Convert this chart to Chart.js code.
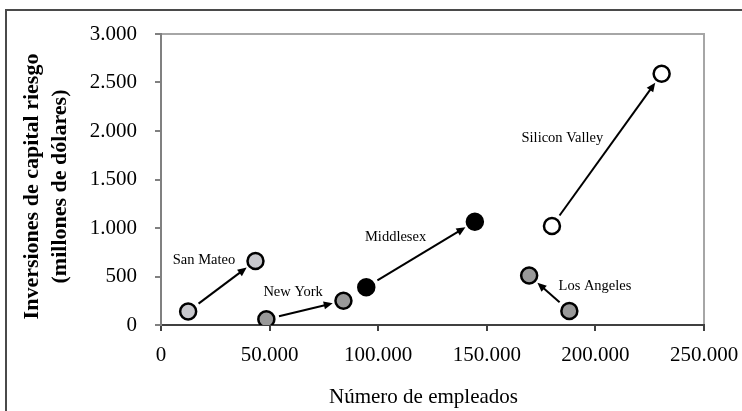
<!DOCTYPE html>
<html>
<head>
<meta charset="utf-8">
<script src="https://cdn.jsdelivr.net/npm/chart.js@4"></script>
<style>
html,body{margin:0;padding:0;background:#fff;overflow:hidden}
#frame{position:absolute;left:5px;top:9px;width:800px;height:500px;border:2px solid #4a4a4a}
#c{position:absolute;left:0;top:0}
</style>
</head>
<body>
<div id="frame"></div>
<canvas id="c" width="742" height="411"></canvas>
<script>
// regions: employees / VC investment (millions), start -> end of arrow
const regions=['San Mateo','New York','Middlesex','Silicon Valley','Los Angeles'];
const empStart=[12500,48500,94500,180000,188000];
const empEnd=[43500,84000,144500,230500,169500];
const vcStart=[140,60,390,1020,145];
const vcEnd=[660,250,1065,2590,510];
// where each region's name sits (data units)
const labelEmp=[19800,60800,108000,184800,199800];
const labelVc=[665,335,910,1930,395];
const fills=['#c8c8cd','#999999','#000000','#ffffff','#999999'];
const xTitle='Número de empleados';
const yTitle=['Inversiones de capital riesgo','(millones de dólares)'];

const fmt=v=>String(v).replace(/\B(?=(\d{3})+(?!\d))/g,'.');
const serif="'Liberation Serif','Times New Roman',serif";

const datasets=regions.map((r,i)=>({
  label:r,
  data:[{x:empStart[i],y:vcStart[i]},{x:empEnd[i],y:vcEnd[i]}],
  backgroundColor:fills[i],borderColor:'#000',borderWidth:2.5,pointRadius:8,pointHoverRadius:8
}));

/* plot frame (top + right) */
const frame={id:'frame',beforeDraw(ch){
  const{ctx,chartArea:a}=ch;ctx.save();
  ctx.strokeStyle='#a6a6a6';ctx.lineWidth=2;
  ctx.beginPath();ctx.moveTo(a.left,a.top);ctx.lineTo(a.right,a.top);ctx.lineTo(a.right,a.bottom);ctx.stroke();
  ctx.restore();
}};
/* arrows start->end, region names, axis titles */
const arrows={id:'arrows',afterDatasetsDraw(ch){
  const{ctx,chartArea:a,scales:{x,y}}=ch;ctx.save();
  regions.forEach((r,i)=>{
    const x0=x.getPixelForValue(empStart[i]),y0=y.getPixelForValue(vcStart[i]);
    const x1=x.getPixelForValue(empEnd[i]),y1=y.getPixelForValue(vcEnd[i]);
    const dx=x1-x0,dy=y1-y0,L=Math.hypot(dx,dy),ux=dx/L,uy=dy/L;
    const sx=x0+ux*13,sy=y0+uy*13,ex=x1-ux*11,ey=y1-uy*11;
    ctx.strokeStyle='#000';ctx.fillStyle='#000';ctx.lineWidth=2;
    ctx.beginPath();ctx.moveTo(sx,sy);ctx.lineTo(ex-ux*6,ey-uy*6);ctx.stroke();
    const hl=9,hw=4;
    ctx.beginPath();ctx.moveTo(ex,ey);
    ctx.lineTo(ex-ux*hl-uy*hw,ey-uy*hl+ux*hw);
    ctx.lineTo(ex-ux*hl+uy*hw,ey-uy*hl-ux*hw);ctx.closePath();ctx.fill();
    ctx.font='14.5px '+serif;ctx.textAlign='center';ctx.textBaseline='middle';
    ctx.fillText(r,x.getPixelForValue(labelEmp[i]),y.getPixelForValue(labelVc[i]));
  });
  // axis titles
  ctx.fillStyle='#000';ctx.textAlign='center';ctx.textBaseline='middle';
  ctx.font='21px '+serif;
  ctx.fillText(xTitle,(a.left+a.right)/2-9,397);
  ctx.translate(0,(a.top+a.bottom)/2+7);ctx.rotate(-Math.PI/2);
  ctx.font='bold 22px '+serif;
  ctx.fillText(yTitle[0],0,32);ctx.fillText(yTitle[1],0,60);
  ctx.restore();
}};

new Chart(document.getElementById('c'),{
  type:'scatter',
  data:{datasets},
  options:{
    responsive:false,animation:false,devicePixelRatio:1,
    layout:{padding:{left:0,top:34,right:38,bottom:0}},
    plugins:{legend:{display:false},tooltip:{enabled:false}},
    scales:{
      x:{type:'linear',min:0,max:250000,
        afterFit:s=>{s.height=86;s.paddingLeft=0;s.paddingRight=0;},
        ticks:{stepSize:50000,callback:fmt,color:'#000',padding:12,font:{family:serif,size:21}},
        grid:{drawOnChartArea:false,drawTicks:true,tickLength:6,color:'#404040',lineWidth:2},
        border:{color:'#404040',width:2}},
      y:{type:'linear',min:0,max:3000,
        afterFit:s=>{s.width=161;s.paddingTop=0;s.paddingBottom=0;},
        ticks:{stepSize:500,callback:fmt,color:'#000',padding:18,font:{family:serif,size:21}},
        grid:{drawOnChartArea:false,drawTicks:true,tickLength:6,color:'#808080',lineWidth:2},
        border:{color:'#808080',width:2}}
    }
  },
  plugins:[frame,arrows]
});
</script>
</body>
</html>
